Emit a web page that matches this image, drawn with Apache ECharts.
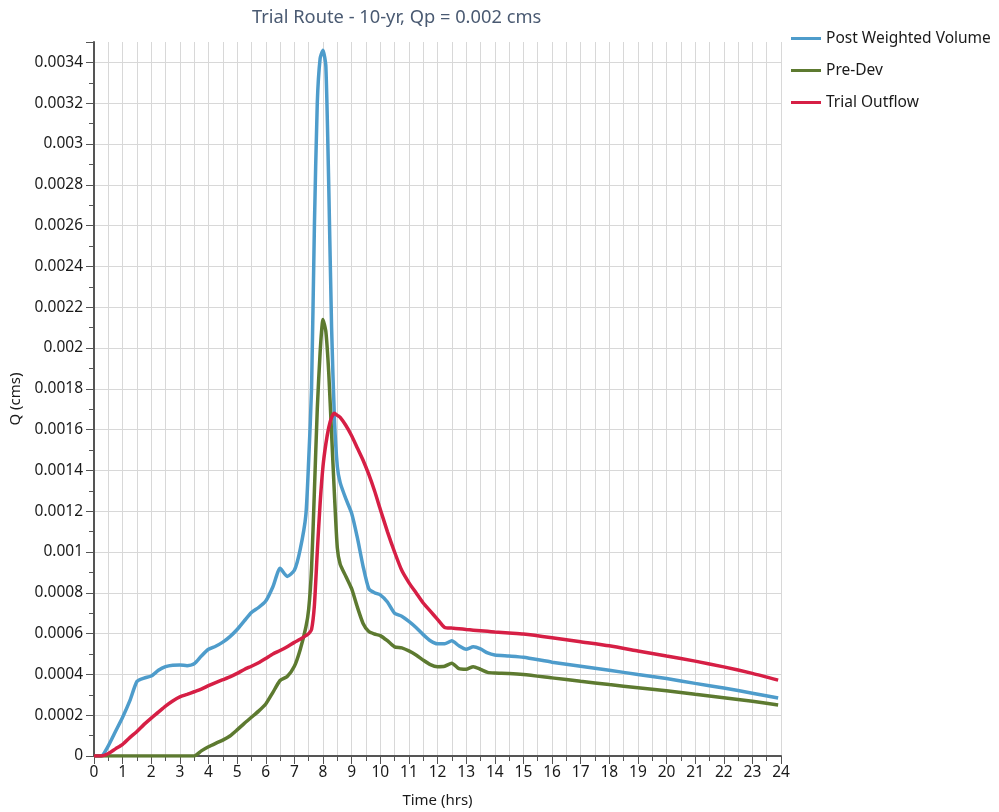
<!DOCTYPE html>
<html>
<head>
<meta charset="utf-8">
<title>Trial Route - 10-yr</title>
<script src="https://cdn.jsdelivr.net/npm/echarts@6/dist/echarts.min.js"></script>
<style>
  html, body { margin: 0; padding: 0; background: #fff; }
  #chart { width: 999px; height: 812px; }
</style>
</head>
<body>
<div id="chart"></div>
<script>
// time steps (hrs), shared by all three hydrographs
const timeHrs = [0, 0.25, 0.5, 0.75, 1, 1.25, 1.5, 1.75, 2, 2.25, 2.5, 2.75, 3, 3.25, 3.5, 3.75,
  4, 4.25, 4.5, 4.75, 5, 5.25, 5.5, 5.75, 6, 6.25, 6.5, 6.75, 7, 7.2, 7.4,
  7.5, 7.6, 7.7, 7.8, 7.9, 8, 8.1, 8.2, 8.3, 8.4, 8.5, 8.6,
  8.8, 9, 9.2, 9.4, 9.6, 9.8,
  10, 10.25, 10.5, 10.75, 11, 11.25, 11.5, 11.75, 12, 12.25, 12.5, 12.75, 13, 13.25, 13.5, 13.75, 14,
  14.5, 15, 16, 17, 18, 19, 20, 21, 22, 23, 23.9];

const postWeighted = [0, 0, 0.00005, 0.00012, 0.00019, 0.00027, 0.000365, 0.000382, 0.000392, 0.00042,
  0.000438, 0.000445, 0.000446, 0.000443, 0.000452, 0.00049, 0.000523, 0.000538, 0.000558, 0.000585,
  0.00062, 0.000662, 0.000703, 0.000728, 0.00076, 0.00083, 0.00092, 0.00088, 0.00091,
  0.00101, 0.00118,
  0.00145, 0.0018, 0.0026, 0.0032, 0.00342, 0.00346, 0.00338, 0.0028, 0.0021, 0.00165, 0.00142, 0.00134,
  0.00126, 0.00119, 0.00107, 0.00093, 0.00082, 0.0008,
  0.00079, 0.000755, 0.0007, 0.000685, 0.00066, 0.00063, 0.000595, 0.000565, 0.00055, 0.00055,
  0.000565, 0.00054, 0.000523, 0.000535, 0.000525, 0.000505, 0.000495,
  0.00049, 0.000484, 0.00046, 0.00044, 0.00042, 0.0004, 0.00038, 0.000356, 0.000333, 0.000308, 0.000284];

const preDev = [0, 0, 0, 0, 0, 0, 0, 0, 0, 0, 0, 0, 0, 0, 0,
  0.000025, 0.000045, 0.000062, 0.000078, 0.000098, 0.000128, 0.00016, 0.00019, 0.00022, 0.000255,
  0.000312, 0.00037, 0.00039, 0.00044,
  0.00052, 0.00063,
  0.00072, 0.00092, 0.0013, 0.0017, 0.00198, 0.00214, 0.00208, 0.00188, 0.00158, 0.00128, 0.00102, 0.00094,
  0.00088, 0.00082, 0.00073, 0.00065, 0.00061, 0.000598,
  0.00059, 0.000565, 0.000535, 0.00053, 0.000515, 0.000495, 0.00047, 0.000448, 0.000438, 0.00044,
  0.000455, 0.000428, 0.000425, 0.000438, 0.000425, 0.00041, 0.000407,
  0.000405, 0.0004, 0.000383, 0.000366, 0.00035, 0.000335, 0.00032, 0.000303, 0.000286, 0.000268, 0.00025];

const trialOutflow = [0, 0, 0.000012, 0.000035, 0.000057, 0.00009, 0.00012, 0.000155, 0.000186, 0.000215,
  0.000245, 0.00027, 0.00029, 0.000302, 0.000315, 0.000328, 0.000345, 0.00036, 0.000374, 0.000388,
  0.000405, 0.000424, 0.00044, 0.000457, 0.000478, 0.0005, 0.000517, 0.000536, 0.000557,
  0.000572, 0.00059,
  0.0006, 0.00062, 0.00074, 0.001, 0.00124, 0.00142, 0.00153, 0.00161, 0.00166, 0.00168, 0.00167, 0.00166,
  0.00162, 0.00157, 0.00151, 0.00145, 0.00138, 0.0013,
  0.00121, 0.0011, 0.001, 0.00091, 0.00085, 0.0008, 0.00075, 0.00071, 0.00067, 0.00063,
  0.000627, 0.000624, 0.00062, 0.000617, 0.000614, 0.000611, 0.000608,
  0.000603, 0.000598, 0.00058, 0.00056, 0.00054, 0.000515, 0.00049, 0.000465, 0.000437, 0.000405, 0.000372];

const seriesNames = ["Post Weighted Volume", "Pre-Dev", "Trial Outflow"];
const seriesColors = ["#4e9ccb", "#5d7a30", "#d61f45"];
const seriesValues = [postWeighted, preDev, trialOutflow];

const font = "'Noto Sans', 'Open Sans', sans-serif";
const chart = echarts.init(document.getElementById("chart"));

chart.setOption({
  animation: false,
  textStyle: { fontFamily: font },
  title: {
    text: "Trial Route - 10-yr, Qp = 0.002 cms",
    left: 247,
    top: 4,
    textStyle: { fontSize: 18.3, fontWeight: "normal", color: "#4a5a72", fontFamily: font },
  },
  legend: {
    orient: "vertical",
    left: 786,
    top: 24,
    icon: "rect",
    itemWidth: 30,
    itemHeight: 3,
    itemGap: 13,
    data: seriesNames,
    textStyle: { fontSize: 15.5, color: "#1a1a1a", lineHeight: 19, fontFamily: font },
  },
  grid: { left: 94, right: 218, top: 42, bottom: 56, outerBoundsMode: "none" },
  xAxis: {
    type: "value",
    min: 0,
    max: 24,
    interval: 1,
    name: "Time (hrs)",
    nameLocation: "middle",
    nameGap: 37,
    nameTextStyle: { fontSize: 15, color: "#1a1a1a" },
    axisLine: { show: true, lineStyle: { color: "#555", width: 2 } },
    axisTick: { show: true, length: 8, lineStyle: { color: "#555" } },
    minorTick: { show: true, splitNumber: 2, length: 5, lineStyle: { color: "#555" } },
    axisLabel: { fontSize: 15.5, color: "#1a1a1a", margin: 9 },
    splitLine: { show: true, lineStyle: { color: "#d8d8d8" } },
    minorSplitLine: { show: true, lineStyle: { color: "#d8d8d8" } },
  },
  yAxis: {
    type: "value",
    min: 0,
    max: 0.0035,
    interval: 0.0002,
    name: "Q (cms)",
    nameLocation: "middle",
    nameGap: 70,
    nameTextStyle: { fontSize: 15, color: "#1a1a1a" },
    axisLine: { show: true, lineStyle: { color: "#555", width: 2 } },
    axisTick: { show: true, length: 8, lineStyle: { color: "#555" } },
    minorTick: { show: true, splitNumber: 2, length: 5, lineStyle: { color: "#555" } },
    axisLabel: { fontSize: 15.5, color: "#1a1a1a", margin: 11, showMaxLabel: false },
    splitLine: { show: true, showMaxLine: false, lineStyle: { color: "#d8d8d8" } },
  },
  series: seriesNames.map((name, k) => ({
    name,
    type: "line",
    showSymbol: false,
    smooth: 0.2,
    color: seriesColors[k],
    lineStyle: { width: 3.5, color: seriesColors[k] },
    data: timeHrs.map((t, i) => [t, seriesValues[k][i]]),
  })),
});
</script>
</body>
</html>
